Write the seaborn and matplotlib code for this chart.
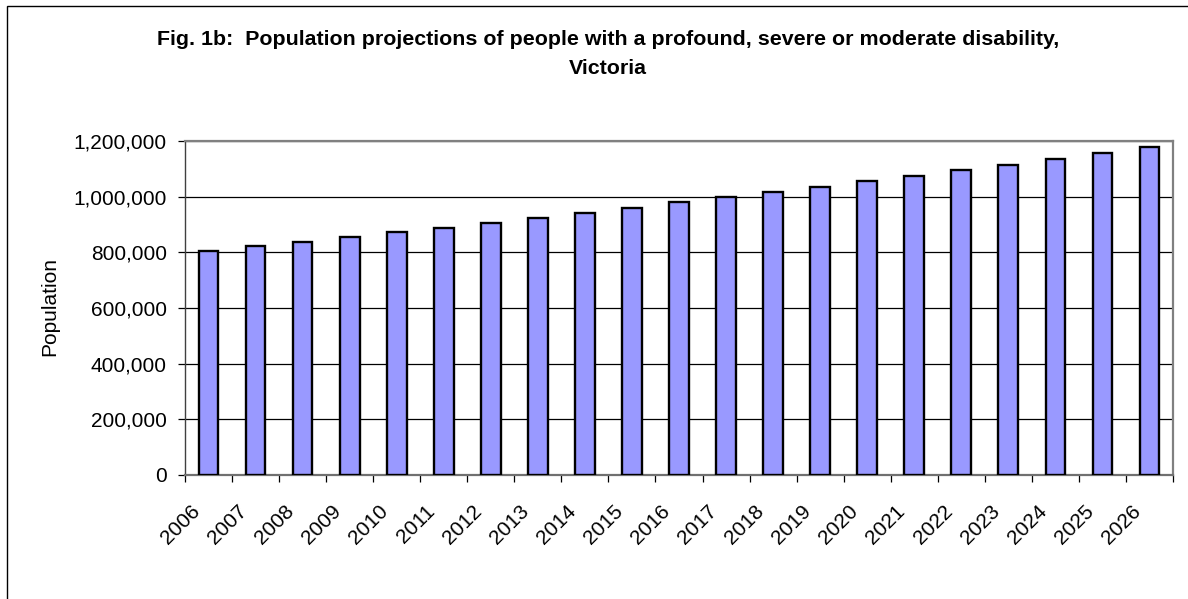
import matplotlib
matplotlib.use("Agg")
import matplotlib.pyplot as plt
import matplotlib.ticker as mticker
import matplotlib.transforms as mtransforms
from matplotlib.patches import Rectangle
import seaborn as sns
import pandas as pd

# Projected population with a profound, severe or moderate disability, Victoria
years = [str(y) for y in range(2006, 2027)]
population = [804000, 821000, 837000, 854000, 872000, 888000, 905000,
              922000, 941000, 958000, 980000, 998000, 1017000, 1036000,
              1055000, 1074000, 1095000, 1114000, 1134000, 1156000, 1178000]
y_ticks = [0, 200000, 400000, 600000, 800000, 1000000, 1200000]

title_line1 = "Fig. 1b:  Population projections of people with a profound, severe or moderate disability,"
title_line2 = "Victoria"
y_label = "Population"

df = pd.DataFrame({"year": years, "population": population})

sns.set_theme(style="white")
plt.rcParams["font.family"] = ["Liberation Sans", "DejaVu Sans"]
plt.rcParams.update({"text.color": "black", "xtick.color": "black",
                     "ytick.color": "black", "axes.labelcolor": "black"})

W, H = 1188, 599
fig = plt.figure(figsize=(W / 100, H / 100), dpi=100)
fig.patch.set_facecolor("white")

# plot area in pixel coordinates
left, right, top, bottom = 185, 1173, 141, 475
ax = fig.add_axes([left / W, 1 - bottom / H, (right - left) / W, (bottom - top) / H])

sns.barplot(data=df, x="year", y="population", color="#9999FF",
            edgecolor="black", linewidth=1.7, width=0.42, saturation=1,
            ax=ax, zorder=3)

ax.set_xlim(-0.5, len(years) - 0.5)
ax.set_ylim(0, 1200000)
ax.set_yticks(y_ticks)
ax.yaxis.set_major_formatter(mticker.FuncFormatter(lambda v, p: f"{int(v):,}"))
ax.grid(axis="y", color="black", linewidth=0.9, zorder=1)
ax.set_axisbelow(True)
ax.set_xlabel("")
ax.set_ylabel("")

for side in ["top", "right"]:
    ax.spines[side].set_visible(True)
    ax.spines[side].set_color("#808080")
    ax.spines[side].set_linewidth(1.6)
ax.spines["left"].set_color("#404040")
ax.spines["left"].set_linewidth(1.0)
ax.spines["bottom"].set_color("#707070")
ax.spines["bottom"].set_linewidth(1.6)

ax.tick_params(axis="y", which="major", direction="out", length=5, width=0.9,
               color="black", labelcolor="black", labelsize=15, pad=8, left=True)
ax.tick_params(axis="x", which="major", length=0, labelsize=15, pad=28,
               labelcolor="black")
ax.set_xticks(range(len(years)))
ax.set_xticks([i - 0.5 for i in range(len(years) + 1)], minor=True)
ax.tick_params(axis="x", which="minor", direction="out", length=5, width=0.9,
               color="black", bottom=True)
shift = mtransforms.ScaledTranslation(-8 / 100, 2 / 100, fig.dpi_scale_trans)
for lab in ax.get_xticklabels():
    lab.set_rotation(45)
    lab.set_ha("right")
    lab.set_va("baseline")
    lab.set_rotation_mode("anchor")
    lab.set_transform(lab.get_transform() + shift)

fig.text(608 / W, 1 - 45 / H, title_line1, ha="center", va="baseline",
         fontsize=15.4, fontweight="bold", color="black")
fig.text(608 / W, 1 - 74 / H, title_line2, ha="center", va="baseline",
         fontsize=15.4, fontweight="bold", color="black")
fig.text(50 / W, 1 - 307 / H, y_label, rotation=90, ha="center", va="center",
         fontsize=15, color="black")

# chart frame
fig.patches.append(Rectangle((6.5 / W, -0.1), 1.2, 1 - 6.5 / H + 0.1,
                             transform=fig.transFigure, fill=False,
                             edgecolor="black", linewidth=1.0))

fig.savefig("out.png", dpi=100)
